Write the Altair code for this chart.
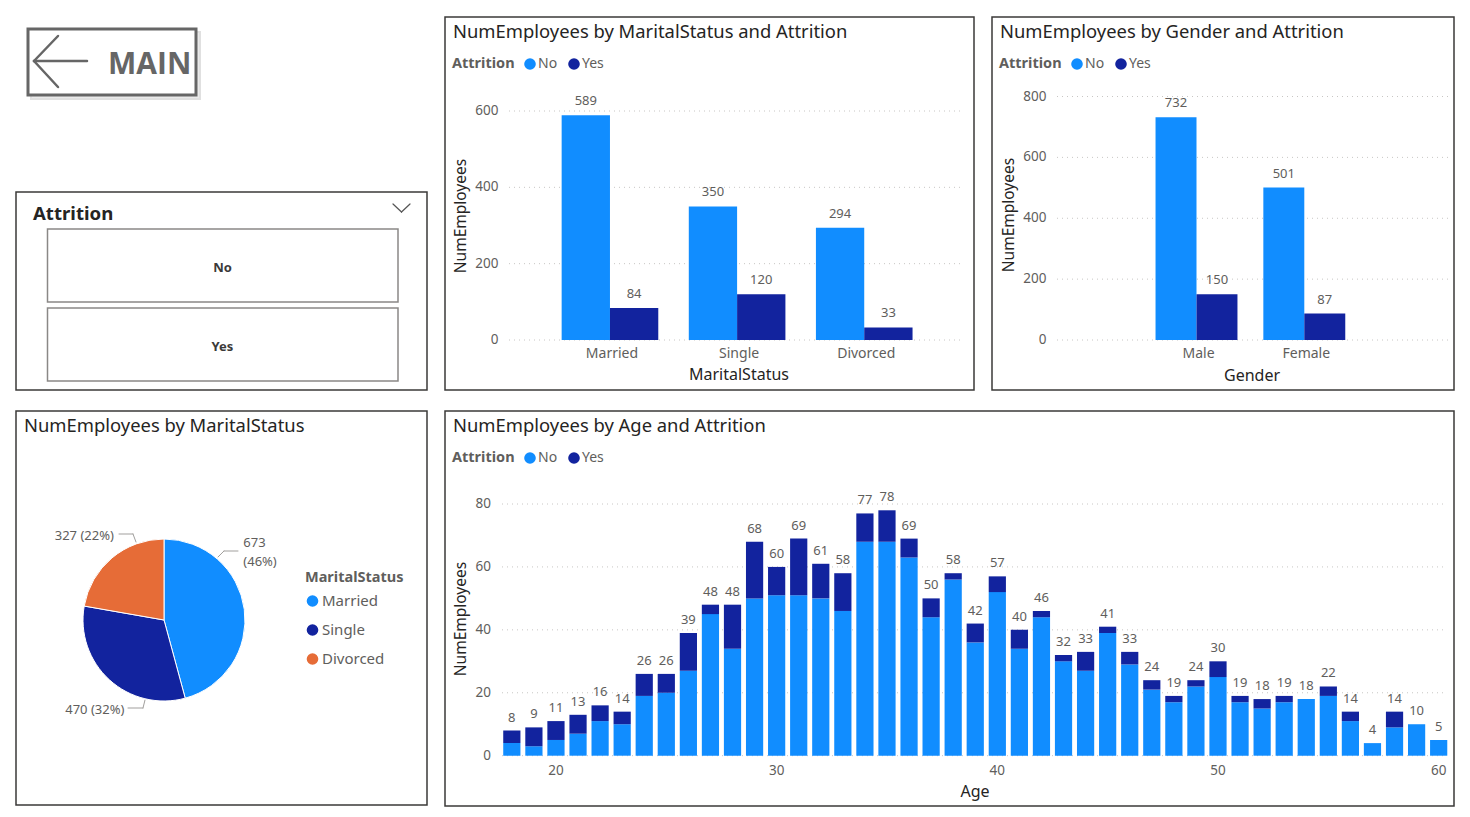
import altair as alt
import pandas as pd

# ---------------- data ----------------
attrition = ["No", "Yes"]

marital_status = ["Married", "Single", "Divorced"]
marital_no = [589, 350, 294]
marital_yes = [84, 120, 33]

genders = ["Male", "Female"]
gender_no = [732, 501]
gender_yes = [150, 87]

ages = list(range(18, 61))
age_total = [8, 9, 11, 13, 16, 14, 26, 26, 39, 48,
             48, 68, 60, 69, 61, 58, 77, 78, 69, 50,
             58, 42, 57, 40, 46, 32, 33, 41, 33, 24,
             19, 24, 30, 19, 18, 19, 18, 22, 14, 4,
             14, 10, 5]
age_yes = [4, 6, 6, 6, 5, 4, 7, 6, 12, 3,
           14, 18, 9, 18, 11, 12, 9, 10, 6, 6,
           2, 6, 5, 6, 2, 2, 6, 2, 4, 3,
           2, 2, 5, 2, 3, 2, 0, 3, 3, 0,
           5, 0, 0]

marital_ticks = [0, 200, 400, 600]
gender_ticks = [0, 200, 400, 600, 800]
age_y_ticks = [0, 20, 40, 60, 80]
age_x_ticks = [20, 30, 40, 50, 60]

# ---------------- styling ----------------
FONT = "Noto Sans"
HEAD = "Noto Sans"
INK = "#252423"
GREY = "#605E5C"
GRID = "#C8C6C4"
FRAME = "#3B3A39"
BLUE = "#118DFF"
NAVY = "#12239E"
ORANGE = "#E66C37"
TITLE_SIZE = 18.4

_one = pd.DataFrame({"k": [0]})


def txt(s, x, y, size, color=INK, weight="normal", align="left",
        font=FONT, angle=0, baseline="middle"):
    return alt.Chart(_one).mark_text(
        text=s, fontSize=size, color=color, fontWeight=weight, align=align,
        baseline=baseline, font=font, angle=angle
    ).encode(x=alt.value(x), y=alt.value(y))


def frame(x0, y0, x1, y1, stroke=FRAME, width=1.5, fill=None, opacity=1.0):
    if fill is None:
        mk = alt.Chart(_one).mark_rect(fillOpacity=0, stroke=stroke, strokeWidth=width)
    else:
        mk = alt.Chart(_one).mark_rect(fill=fill, opacity=opacity, stroke=stroke,
                                       strokeWidth=width)
    return mk.encode(x=alt.value(x0), x2=alt.value(x1), y=alt.value(y0), y2=alt.value(y1))


def seg(x0, y0, x1, y1, color, width=1.0):
    return alt.Chart(_one).mark_rule(color=color, strokeWidth=width, strokeCap="round").encode(
        x=alt.value(x0), x2=alt.value(x1), y=alt.value(y0), y2=alt.value(y1))


def attrition_legend(x, y):
    return alt.Legend(
        orient="none", legendX=x, legendY=y, direction="horizontal",
        title="Attrition", titleOrient="left", titleFont=HEAD, titleFontSize=14.5,
        titleFontWeight="bold", titleColor=GREY, titlePadding=8,
        labelFont=FONT, labelFontSize=14, labelColor=GREY, labelOffset=1,
        symbolType="circle", symbolSize=135, symbolStrokeWidth=0,
        columnPadding=9,
    )


def y_guides(ticks, yscale, x0, x1, label_x):
    tdf = pd.DataFrame({"tick": ticks})
    grid = alt.Chart(tdf).mark_rule(color=GRID, strokeDash=[1, 4], strokeWidth=1).encode(
        y=alt.Y("tick:Q", scale=yscale, axis=None), x=alt.value(x0), x2=alt.value(x1))
    labels = alt.Chart(tdf).mark_text(align="right", baseline="middle", font=FONT,
                                      fontSize=13.5, color=GREY).encode(
        y=alt.Y("tick:Q", scale=yscale, axis=None), x=alt.value(label_x), text="tick:Q")
    return [grid, labels]


def grouped_panel(field, cats, no_vals, yes_vals, ticks, y_range, x_range,
                  grid_x, label_x, legend_xy, cat_y):
    rows = []
    for c, n, y in zip(cats, no_vals, yes_vals):
        rows.append({field: c, "Attrition": "No", "NumEmployees": n})
        rows.append({field: c, "Attrition": "Yes", "NumEmployees": y})
    df = pd.DataFrame(rows)
    xs = alt.Scale(domain=cats, range=x_range, paddingInner=0.24, paddingOuter=0.12)
    ys = alt.Scale(domain=[0, ticks[-1]], range=y_range, nice=False, zero=True)
    x = alt.X(f"{field}:N", scale=xs, axis=None)
    xo = alt.XOffset("Attrition:N", scale=alt.Scale(domain=attrition, paddingInner=0,
                                                     paddingOuter=0))
    y = alt.Y("NumEmployees:Q", scale=ys, axis=None)
    bars = alt.Chart(df).mark_bar().encode(
        x=x, xOffset=xo, y=y,
        color=alt.Color("Attrition:N", scale=alt.Scale(domain=attrition, range=[BLUE, NAVY]),
                        legend=attrition_legend(*legend_xy)),
    )
    values = alt.Chart(df).mark_text(baseline="alphabetic", dy=-10, font=FONT,
                                     fontSize=13, color=GREY).encode(
        x=x, xOffset=xo, y=y, text="NumEmployees:Q")
    cat_labels = alt.Chart(pd.DataFrame({field: cats})).mark_text(
        baseline="middle", font=FONT, fontSize=14, color=GREY, dx=2).encode(
        x=x, y=alt.value(cat_y), text=f"{field}:N")
    return alt.layer(*y_guides(ticks, ys, grid_x[0], grid_x[1], label_x),
                     bars, values, cat_labels)


# ---------------- MAIN button ----------------
main_btn = [
    frame(31, 32, 200, 99, stroke="#d9d9d9", width=2, fill="#e6e6e6", opacity=0.8),
    frame(28, 29, 196, 95, stroke="#666666", width=3, fill="white"),
    seg(34, 61, 87, 61, "#666666", 2.5),
    seg(34, 61, 58, 36, "#666666", 2.5),
    seg(34, 61, 58, 87, "#666666", 2.5),
    txt("MAIN", 108, 65, 30, color="#666666", weight="bold", font="Open Sans"),
]

# ---------------- Attrition slicer ----------------
slicer = [
    frame(16, 192, 427, 390),
    txt("Attrition", 33, 214, 18.6, color=INK, weight="bold", font=HEAD),
    seg(393, 204, 401.5, 212, "#555555", 1.2),
    seg(401.5, 212, 410, 204, "#555555", 1.2),
    frame(47.5, 229, 398, 302, stroke="#8a8886", width=1.5),
    frame(47.5, 308, 398, 381, stroke="#8a8886", width=1.5),
    txt("No", 222.5, 267.5, 13, color="#3b3a39", weight="bold", align="center"),
    txt("Yes", 222.5, 347, 13, color="#3b3a39", weight="bold", align="center"),
]

# ---------------- MaritalStatus pie ----------------
pie_counts = [n + y for n, y in zip(marital_no, marital_yes)]
pie_total = sum(pie_counts)
pie_df = pd.DataFrame({"MaritalStatus": marital_status, "NumEmployees": pie_counts,
                       "ord": list(range(len(marital_status)))})
pie_df["mid"] = pie_df["NumEmployees"].cumsum() - pie_df["NumEmployees"] / 2
pct = (pie_df["NumEmployees"] / pie_total * 100).round().astype(int).astype(str)
pie_df["label"] = pie_df["NumEmployees"].astype(str) + " (" + pct + "%)"
pie_df["label_wrapped"] = pie_df["NumEmployees"].astype(str) + "\n(" + pct + "%)"

CX, CY, R = 164, 620, 81
theta_scale = alt.Scale(domain=[0, pie_total])
pie_color = alt.Color(
    "MaritalStatus:N",
    scale=alt.Scale(domain=marital_status, range=[BLUE, NAVY, ORANGE]),
    legend=alt.Legend(
        orient="none", legendX=305, legendY=571, direction="vertical",
        title="MaritalStatus", titleFont=HEAD, titleFontSize=14.5, titleFontWeight="bold",
        titleColor=GREY, titlePadding=8, labelFont=FONT, labelFontSize=15,
        labelColor=GREY, labelOffset=2, symbolType="circle", symbolSize=135,
        symbolStrokeWidth=0, rowPadding=13,
    ),
)
arcs = alt.Chart(pie_df).mark_arc(radius=R, stroke="white", strokeWidth=1).encode(
    theta=alt.Theta("NumEmployees:Q", stack=True, scale=theta_scale),
    color=pie_color,
    order=alt.Order("ord:Q"),
    x=alt.value(CX), y=alt.value(CY),
)


def pie_label(status, field, align, dx, dy):
    return alt.Chart(pie_df).transform_filter(
        alt.datum.MaritalStatus == status
    ).mark_text(radius=R, align=align, baseline="middle", dx=dx, dy=dy, font=FONT,
                fontSize=13, color=GREY, lineBreak="\n", lineHeight=19).encode(
        theta=alt.Theta("mid:Q", stack=None, scale=theta_scale),
        text=f"{field}:N", x=alt.value(CX), y=alt.value(CY))


pie_panel = alt.layer(
    arcs,
    pie_label("Married", "label_wrapped", "left", -1, -66),
    pie_label("Single", "label", "right", 15, 30),
    pie_label("Divorced", "label", "right", 2, -22),
)
pie_extras = [
    frame(16, 411, 427, 805),
    txt("NumEmployees by MaritalStatus", 24, 425.5, TITLE_SIZE, font=HEAD),
    seg(218, 557, 224, 551, "#a19f9d", 1), seg(224, 551, 238, 551, "#a19f9d", 1),
    seg(119, 534, 133, 534, "#a19f9d", 1), seg(133, 534, 136, 542, "#a19f9d", 1),
    seg(128, 708, 143, 708, "#a19f9d", 1), seg(143, 708, 145, 700, "#a19f9d", 1),
]

# ---------------- grouped bar panels ----------------
marital_panel = grouped_panel(
    "MaritalStatus", marital_status, marital_no, marital_yes, marital_ticks,
    y_range=[340, 111], x_range=[546.4, 927.8], grid_x=(509, 964), label_x=498.5,
    legend_xy=(452, 57), cat_y=353.5)
marital_extras = [
    frame(445, 17, 974, 390),
    txt("NumEmployees by MaritalStatus and Attrition", 453, 31.5, TITLE_SIZE, font=HEAD),
    txt("NumEmployees", 461, 216, 15.5, angle=270, align="center"),
    txt("MaritalStatus", 739, 375, 16, align="center", font=HEAD),
]

gender_panel = grouped_panel(
    "Gender", genders, gender_no, gender_yes, gender_ticks,
    y_range=[340, 96.5], x_range=[1142.6, 1358.2], grid_x=(1057, 1448), label_x=1046.5,
    legend_xy=(999, 57), cat_y=353.5)
gender_extras = [
    frame(992, 17, 1454, 390),
    txt("NumEmployees by Gender and Attrition", 1000, 31.5, TITLE_SIZE, font=HEAD),
    txt("NumEmployees", 1008.5, 215, 15.5, angle=270, align="center"),
    txt("Gender", 1252, 376, 16, align="center", font=HEAD),
]

# ---------------- Age stacked bars ----------------
age_rows = []
for a, t, y in zip(ages, age_total, age_yes):
    age_rows.append({"Age": a, "Attrition": "No", "NumEmployees": t - y, "ord": 0})
    age_rows.append({"Age": a, "Attrition": "Yes", "NumEmployees": y, "ord": 1})
age_df = pd.DataFrame(age_rows)
age_tot_df = pd.DataFrame({"Age": ages, "total": age_total})

age_xs = alt.Scale(domain=ages, range=[500.8, 1449.7], paddingInner=0.22, paddingOuter=0.11)
age_ys = alt.Scale(domain=[0, age_y_ticks[-1]], range=[755.7, 504], nice=False, zero=True)
age_x = alt.X("Age:O", scale=age_xs, axis=None)

age_bars = alt.Chart(age_df).mark_bar().encode(
    x=age_x,
    y=alt.Y("NumEmployees:Q", stack="zero", scale=age_ys, axis=None),
    color=alt.Color("Attrition:N", scale=alt.Scale(domain=attrition, range=[BLUE, NAVY]),
                    legend=attrition_legend(452, 451)),
    order=alt.Order("ord:Q"),
)
age_totals = alt.Chart(age_tot_df).mark_text(baseline="alphabetic", dy=-9, font=FONT,
                                             fontSize=13, color=GREY).encode(
    x=age_x, y=alt.Y("total:Q", scale=age_ys, axis=None), text="total:Q")
age_xlabels = alt.Chart(pd.DataFrame({"Age": age_x_ticks})).mark_text(
    baseline="middle", font=FONT, fontSize=13.5, color=GREY).encode(
    x=age_x, y=alt.value(770.5), text="Age:O")
age_panel = alt.layer(*y_guides(age_y_ticks, age_ys, 502, 1443, 491),
                      age_bars, age_totals, age_xlabels)
age_extras = [
    frame(445, 411, 1454, 806),
    txt("NumEmployees by Age and Attrition", 453, 425.5, TITLE_SIZE, font=HEAD),
    txt("NumEmployees", 461, 619, 15.5, angle=270, align="center"),
    txt("Age", 975, 792, 16, align="center", font=HEAD),
]

layers = (main_btn + slicer + pie_extras + marital_extras + gender_extras + age_extras
          + [pie_panel, marital_panel, gender_panel, age_panel])

chart = alt.layer(*layers).resolve_scale(
    x="independent", y="independent", color="independent", theta="independent",
    xOffset="independent",
).properties(
    width=1470, height=817, padding=0,
    autosize=alt.AutoSizeParams(type="none"),
    background="white",
).configure_view(stroke=None)

chart.save("out.html", embed_options={"renderer": "svg", "actions": False})
